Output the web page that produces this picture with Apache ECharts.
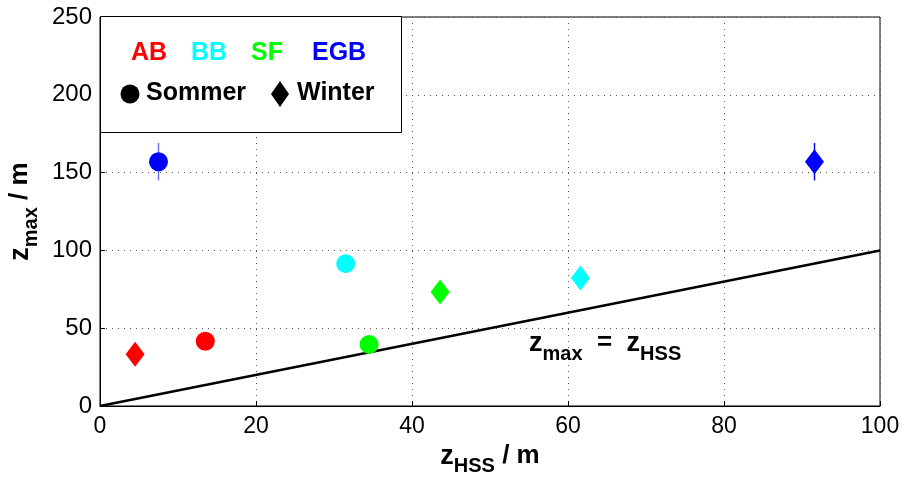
<!DOCTYPE html>
<html>
<head>
<meta charset="utf-8">
<script src="https://cdn.jsdelivr.net/npm/echarts@6/dist/echarts.min.js"></script>
<style>
  html, body { margin: 0; padding: 0; background: #fff; }
  #main { width: 904px; height: 477px; }
</style>
</head>
<body>
<div id="main"></div>
<script>
// Standorte und Farben
var sites = ['AB', 'BB', 'SF', 'EGB'];
var siteColors = ['#ff0000', '#00ffff', '#00ff00', '#0000ff'];

// Sommer (Kreise)
var sommerX = [13.5, 31.5, 34.5, 7.5];
var sommerY = [41.6, 91.5, 39.6, 157];
var sommerErr = [0, 0, 0, 12];

// Winter (Rauten)
var winterX = [4.5, 61.6, 43.6, 91.6];
var winterY = [33.2, 82.3, 73.3, 157];
var winterErr = [0, 0, 0, 12];

// z_max = z_HSS
var refLineX = [0, 100];
var refLineY = [0, 100];

var FONT = '"Liberation Sans", Arial, Helvetica, sans-serif';

var myChart = echarts.init(document.getElementById('main'));

function pts(xs, ys) {
    var out = [];
    for (var i = 0; i < xs.length; i++) {
        out.push({ value: [xs[i], ys[i]], itemStyle: { color: siteColors[i], opacity: 1 } });
    }
    return out;
}

function errData(xs, ys, es) {
    var out = [];
    for (var i = 0; i < xs.length; i++) {
        if (es[i] > 0) out.push([xs[i], ys[i] - es[i], ys[i] + es[i], i]);
    }
    return out;
}

function errRenderFn(opacity) {
    return function (params, api) {
        var p1 = api.coord([api.value(0), api.value(1)]);
        var p2 = api.coord([api.value(0), api.value(2)]);
        return {
            type: 'line',
            shape: { x1: p1[0], y1: p1[1], x2: p2[0], y2: p2[1] },
            style: { stroke: siteColors[api.value(3)], lineWidth: 1.5, opacity: opacity }
        };
    };
}

var lineData = refLineX.map(function (x, i) { return [x, refLineY[i]]; });

var subLabel = {
    z: { fontSize: 27, fontWeight: 'bold', color: '#000', fontFamily: FONT, verticalAlign: 'top', lineHeight: 28 },
    s: { fontSize: 20, fontWeight: 'bold', color: '#000', fontFamily: FONT, verticalAlign: 'top', padding: [14, 0, 0, 0], lineHeight: 22 },
    t: { fontSize: 26, fontWeight: 'bold', color: '#000', fontFamily: FONT, verticalAlign: 'top', lineHeight: 28 }
};

var option = {
    animation: false,
    backgroundColor: '#fff',
    grid: {
        left: 100, right: 24, top: 17, bottom: 71,
        outerBoundsMode: 'none', containLabel: false,
        show: true, borderColor: '#000', borderWidth: 1
    },
    xAxis: {
        type: 'value', min: 0, max: 100, interval: 20,
        name: '{z|z}{s|HSS}{t| / m}',
        nameLocation: 'middle', nameGap: 26,
        nameTextStyle: { rich: subLabel },
        axisLine: { lineStyle: { color: '#000' } },
        axisTick: { inside: true, length: 5, lineStyle: { color: '#000' } },
        axisLabel: { fontSize: 23, color: '#000', fontFamily: FONT, margin: 9 },
        splitLine: { show: true, lineStyle: { color: '#555', type: [1, 5], width: 1 } }
    },
    yAxis: {
        type: 'value', min: 0, max: 250, interval: 50,
        name: '{z|z}{s|max}{t| / m}',
        nameLocation: 'middle', nameGap: 64, nameRotate: 90,
        nameTextStyle: { rich: subLabel },
        axisLine: { lineStyle: { color: '#000' } },
        axisTick: { inside: true, length: 5, lineStyle: { color: '#000' } },
        axisLabel: { fontSize: 24, color: '#000', fontFamily: FONT, margin: 8 },
        splitLine: { show: true, lineStyle: { color: '#555', type: [1, 5], width: 1 } }
    },
    series: [
        {
            type: 'line', data: lineData, symbol: 'none',
            lineStyle: { color: '#000', width: 2.5 }, z: 2
        },
        {
            type: 'custom', renderItem: errRenderFn(0.55), data: errData(sommerX, sommerY, sommerErr),
            encode: { x: 0, y: [1, 2] }, z: 3
        },
        {
            type: 'custom', renderItem: errRenderFn(1), data: errData(winterX, winterY, winterErr),
            encode: { x: 0, y: [1, 2] }, z: 3
        },
        {
            type: 'scatter', name: 'Sommer', symbol: 'circle', symbolSize: 19,
            data: pts(sommerX, sommerY), z: 4
        },
        {
            type: 'scatter', name: 'Winter', symbol: 'diamond', symbolSize: [19, 25],
            data: pts(winterX, winterY), z: 4
        }
    ],
    graphic: [
        // Legende
        {
            type: 'rect', left: 100, top: 16, z: 100,
            shape: { width: 301, height: 116 },
            style: { fill: '#fff', stroke: '#000', lineWidth: 1 }
        },
        { type: 'text', left: 131, top: 41, z: 101, style: { text: sites[0], fill: siteColors[0], font: 'bold 25px ' + FONT } },
        { type: 'text', left: 191, top: 41, z: 101, style: { text: sites[1], fill: siteColors[1], font: 'bold 25px ' + FONT } },
        { type: 'text', left: 251, top: 41, z: 101, style: { text: sites[2], fill: siteColors[2], font: 'bold 25px ' + FONT } },
        { type: 'text', left: 312, top: 41, z: 101, style: { text: sites[3], fill: siteColors[3], font: 'bold 25px ' + FONT } },
        { type: 'circle', z: 101, shape: { cx: 130, cy: 94, r: 9.5 }, style: { fill: '#000' } },
        { type: 'text', left: 146, top: 81, z: 101, style: { text: 'Sommer', fill: '#000', font: 'bold 25px ' + FONT } },
        { type: 'polygon', z: 101, shape: { points: [[280, 81], [289, 94], [280, 107], [271, 94]] }, style: { fill: '#000' } },
        { type: 'text', left: 297, top: 81, z: 101, style: { text: 'Winter', fill: '#000', font: 'bold 25px ' + FONT } },
        // Beschriftung der Linie
        {
            type: 'text', left: 529, top: 330, z: 50,
            style: {
                text: '{z|z}{s|max}{t|  =  }{z|z}{s|HSS}',
                rich: subLabel
            }
        }
    ]
};

myChart.setOption(option);
</script>
</body>
</html>
